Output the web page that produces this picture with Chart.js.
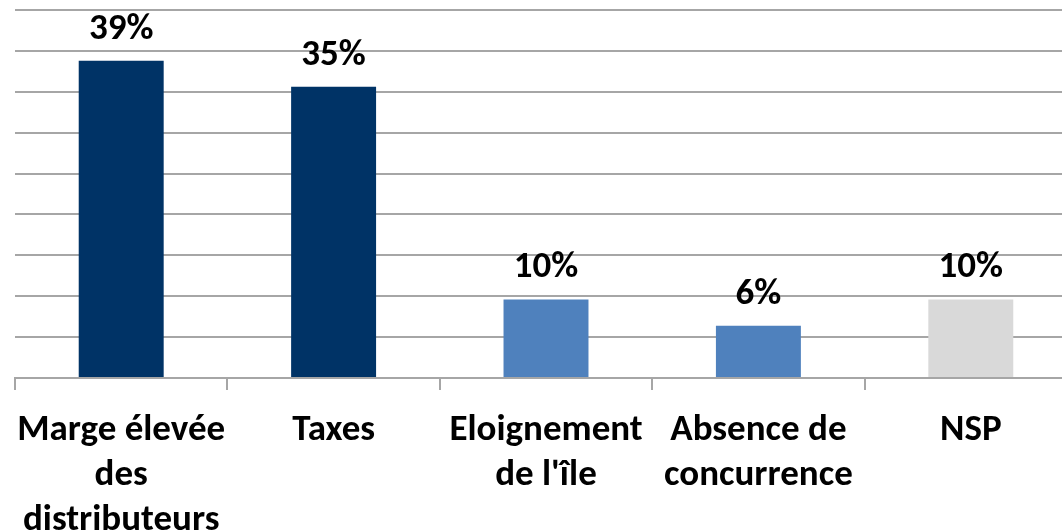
<!DOCTYPE html>
<html>
<head>
<meta charset="utf-8">
<script src="https://cdn.jsdelivr.net/npm/chart.js@4"></script>
<style>
    html, body { margin: 0; padding: 0; background: #fff; overflow: hidden; }
    #wrap { width: 1077px; height: 532px; }
</style>
</head>
<body>
<div id="wrap"><canvas id="raisonsChart"></canvas></div>
<script>
// Categories and values
const categories = [
    ['Marge élevée', 'des', 'distributeurs'],
    ['Taxes'],
    ['Eloignement', "de l'île"],
    ['Absence de', 'concurrence'],
    ['NSP']
];
const values = [38.8, 35.6, 9.6, 6.4, 9.6];
const valueLabels = ['39%', '35%', '10%', '6%', '10%'];
const barColors = ['#003366', '#003366', '#4F81BD', '#4F81BD', '#D9D9D9'];

const fontFamily = "'Carlito', 'Liberation Sans Narrow', 'DejaVu Sans Condensed', sans-serif";

// Value labels above each bar
const valueLabelPlugin = {
    id: 'valueLabels',
    afterDatasetsDraw(chart) {
        const ctx = chart.ctx;
        const meta = chart.getDatasetMeta(0);
        ctx.save();
        ctx.font = 'bold 37px ' + fontFamily;
        ctx.fillStyle = '#000';
        ctx.textAlign = 'center';
        ctx.textBaseline = 'alphabetic';
        meta.data.forEach((bar, i) => {
            ctx.fillText(valueLabels[i], bar.x, bar.y - 22);
        });
        ctx.restore();
    }
};

new Chart(document.getElementById('raisonsChart').getContext('2d'), {
    type: 'bar',
    data: {
        labels: categories,
        datasets: [{
            data: values,
            backgroundColor: barColors,
            borderWidth: 0,
            categoryPercentage: 1,
            barPercentage: 0.4
        }]
    },
    options: {
        responsive: true,
        maintainAspectRatio: false,
        animation: false,
        layout: { padding: { left: 15, top: 10, right: 0, bottom: 0 } },
        plugins: {
            legend: { display: false },
            tooltip: { enabled: false }
        },
        scales: {
            y: {
                min: 0,
                max: 45,
                ticks: { display: false, stepSize: 5 },
                border: { display: false },
                grid: { color: '#A6A6A6', lineWidth: 2, drawTicks: false },
                afterFit(scale) { scale.width = 0; }
            },
            x: {
                offset: true,
                border: { display: true, color: '#A6A6A6', width: 2 },
                grid: {
                    offset: true,
                    drawOnChartArea: false,
                    color: '#A6A6A6',
                    lineWidth: 2,
                    tickLength: 12
                },
                ticks: {
                    color: '#000',
                    maxRotation: 0,
                    autoSkip: false,
                    padding: 18,
                    font: { family: fontFamily, size: 37, weight: 'bold', lineHeight: 1.22 }
                },
                afterFit(scale) {
                    scale.height = 154;
                    // let the first label run into the left margin, as in the original
                    scale.paddingLeft = 0;
                    scale.paddingRight = 0;
                }
            }
        }
    },
    plugins: [valueLabelPlugin]
});
</script>
</body>
</html>
